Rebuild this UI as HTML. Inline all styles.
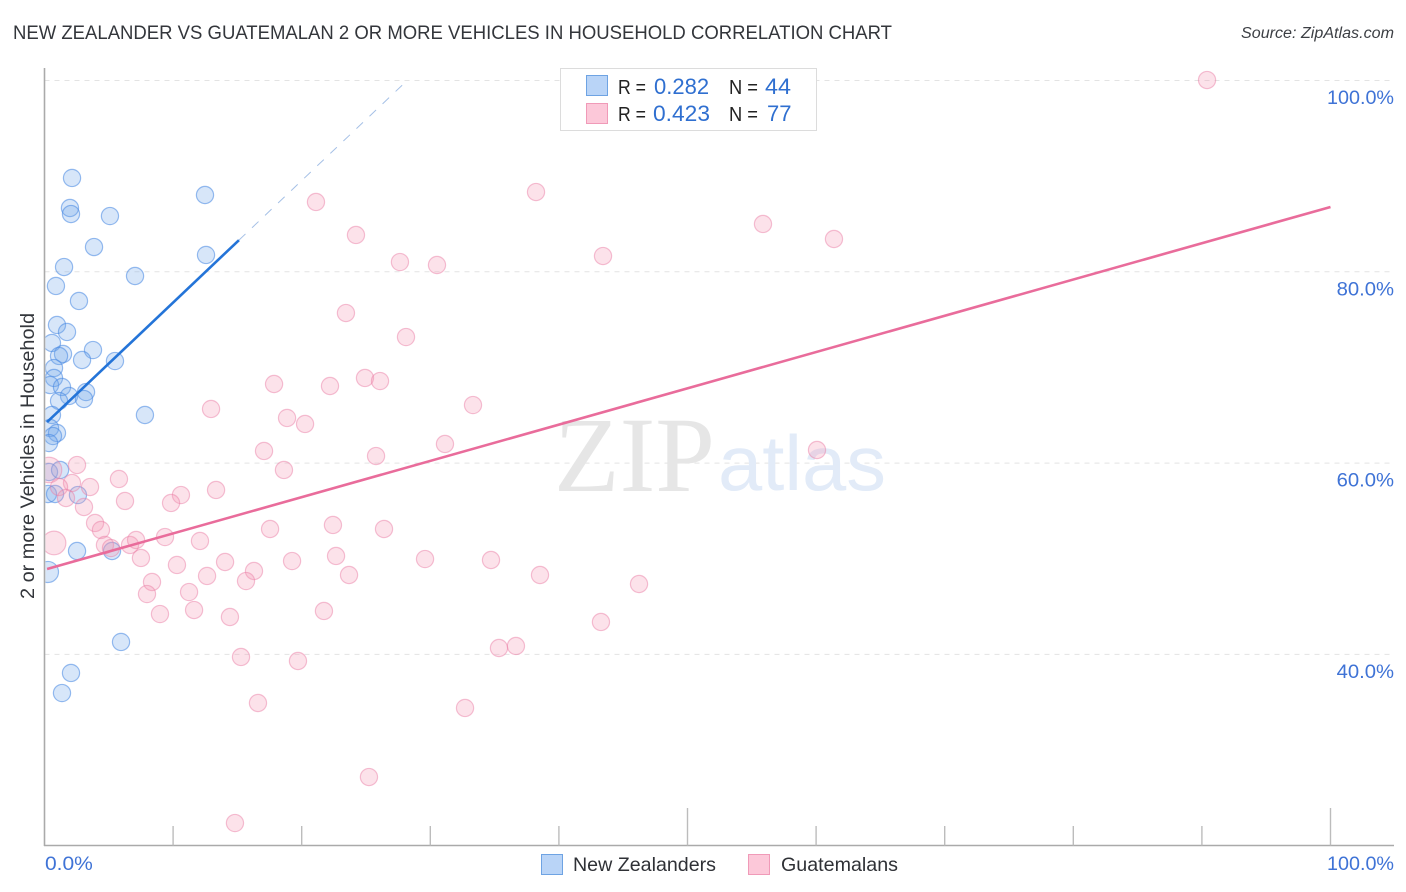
<!DOCTYPE html>
<html lang="en">
<head>
<meta charset="utf-8">
<title>New Zealander vs Guatemalan 2 or more vehicles in household correlation chart</title>
<style>
html,body{margin:0;padding:0;background:#fff;}
body{width:1406px;height:892px;overflow:hidden;}
svg{display:block;font-family:"Liberation Sans",sans-serif;}
</style>
</head>
<body>
<svg id="chart" xmlns="http://www.w3.org/2000/svg" width="1406" height="892" viewBox="0 0 1406 892">
  <defs>
    <clipPath id="plot-clip"><rect x="45.5" y="60" width="1350" height="785"/></clipPath>
  </defs>
  <rect width="1406" height="892" fill="#fff"/>
  <text x="13" y="39" font-size="19" fill="#33363b" textLength="879" lengthAdjust="spacingAndGlyphs">NEW ZEALANDER VS GUATEMALAN 2 OR MORE VEHICLES IN HOUSEHOLD CORRELATION CHART</text>
  <text x="1394" y="38" font-size="15.5" font-style="italic" fill="#3c3f44" text-anchor="end" textLength="153" lengthAdjust="spacingAndGlyphs">Source: ZipAtlas.com</text>

  <g id="grid"></g>

  <g>
    <text x="554" y="491" font-family="'Liberation Serif',serif" font-size="107" fill="#e6e6e6" textLength="161" lengthAdjust="spacingAndGlyphs">ZIP</text>
    <text x="718" y="490" font-size="78" fill="#e2ebf8" textLength="168" lengthAdjust="spacingAndGlyphs">atlas</text>
  </g>

  <g id="points" clip-path="url(#plot-clip)"></g>
  <g id="trends"></g>
  <g id="axes"></g>
  <g id="y-labels"></g>
  <g id="x-labels"></g>

  <text transform="translate(34,456) rotate(-90)" font-size="19.5" fill="#33363b" text-anchor="middle" textLength="286" lengthAdjust="spacingAndGlyphs">2 or more Vehicles in Household</text>

  <g>
    <rect x="560.5" y="68.5" width="256" height="62" fill="#fff" stroke="#dcdcdc"/>
    <rect x="586.5" y="75.5" width="21" height="20" fill="#b9d4f7" stroke="#6ea3e3"/>
    <rect x="586.5" y="103.5" width="21" height="20" fill="#fcc8d9" stroke="#f09ab8"/>
    <text x="618" y="94" font-size="20" fill="#222" textLength="28" lengthAdjust="spacingAndGlyphs">R =</text>
    <text x="654" y="94" font-size="22" fill="#2f6fd0">0.282</text>
    <text x="729" y="94" font-size="20" fill="#222" textLength="29" lengthAdjust="spacingAndGlyphs">N =</text>
    <text x="765" y="94" font-size="22" fill="#2f6fd0" textLength="26" lengthAdjust="spacingAndGlyphs">44</text>
    <text x="618" y="121" font-size="20" fill="#222" textLength="28" lengthAdjust="spacingAndGlyphs">R =</text>
    <text x="653" y="121" font-size="22" fill="#2f6fd0" textLength="57" lengthAdjust="spacingAndGlyphs">0.423</text>
    <text x="729" y="121" font-size="20" fill="#222" textLength="29" lengthAdjust="spacingAndGlyphs">N =</text>
    <text x="767" y="121" font-size="22" fill="#2f6fd0">77</text>
  </g>

  <g>
    <rect x="541.5" y="854.5" width="21" height="20" fill="#b9d4f7" stroke="#6ea3e3"/>
    <text x="573" y="871" font-size="19.5" fill="#2f3136" textLength="143" lengthAdjust="spacingAndGlyphs">New Zealanders</text>
    <rect x="748.5" y="854.5" width="21" height="20" fill="#fcc8d9" stroke="#f09ab8"/>
    <text x="781" y="871" font-size="19.5" fill="#2f3136" textLength="117" lengthAdjust="spacingAndGlyphs">Guatemalans</text>
  </g>
</svg>

<script>
const yTicks = [100, 80, 60, 40];
const yTickLabels = ["100.0%", "80.0%", "60.0%", "40.0%"];
const xTicks = [10, 20, 30, 40, 50, 60, 70, 80, 90, 100];
const xMajorTicks = [50, 100];
const xEdgeValues = [0, 100];
const xEdgeLabels = ["0.0%", "100.0%"];

const blueX = [2.14,1.98,2.06,5.09,12.48,3.85,12.56,1.52,7.04,0.89,2.68,0.97,1.75,0.58,3.77,1.44,1.13,2.92,5.48,0.74,0.74,0.43,1.36,1.91,3.23,3.07,1.13,0.58,7.81,0.43,0.97,0.66,0.35,0.35,1.21,0.27,0.82,2.60,2.53,5.25,0.27,5.95,2.06,1.36];
const blueY = [89.81,86.67,86.04,85.83,88.03,82.59,81.76,80.50,79.56,78.52,76.95,74.44,73.71,72.56,71.82,71.41,71.20,70.78,70.67,69.94,68.90,68.16,67.96,67.02,67.43,66.70,66.49,65.03,65.03,63.67,63.15,62.83,62.10,59.07,59.28,56.77,56.77,56.66,50.81,50.81,48.62,41.30,38.06,35.96];
const blueWeight = [1,1,1,1,1,1,1,1,1,1,1,1,1,1,1,1,1,1,1,1,1,1,1,1,1,1,1,1,1,1,1,1,1,1,1,1,1,1,1,1,1.5,1,1,1];

const pinkX = [90.40,38.22,21.11,55.87,61.39,24.22,43.43,27.64,30.52,23.44,28.11,17.85,24.92,26.09,22.20,33.32,12.95,18.86,20.26,31.14,17.07,25.78,60.07,18.62,2.53,0.35,5.79,13.34,10.61,9.84,6.26,3.54,2.14,1.13,1.67,3.07,3.93,4.39,4.70,5.17,6.65,7.12,9.37,12.09,7.50,10.30,12.64,14.04,16.29,15.67,19.25,17.54,8.36,7.97,11.24,11.63,8.98,14.42,22.43,22.67,26.40,23.68,29.59,34.72,38.53,46.23,21.73,43.27,36.66,35.34,15.28,19.71,16.60,32.70,25.23,14.81,0.74];
const pinkY = [100.05,88.34,87.30,85.00,83.43,83.85,81.65,81.02,80.71,75.69,73.18,68.27,68.90,68.58,68.06,66.07,65.66,64.72,64.09,62.00,61.27,60.74,61.37,59.28,59.80,59.28,58.34,57.19,56.66,55.83,56.04,57.50,57.92,57.50,56.35,55.41,53.74,53.01,51.44,51.12,51.44,51.96,52.27,51.86,50.08,49.35,48.20,49.66,48.72,47.67,49.76,53.11,47.57,46.31,46.52,44.64,44.22,43.91,53.53,50.29,53.11,48.30,49.97,49.87,48.30,47.36,44.54,43.39,40.88,40.67,39.73,39.31,34.92,34.40,27.18,22.37,51.65];
const pinkWeight = [1,1,1,1,1,1,1,1,1,1,1,1,1,1,1,1,1,1,1,1,1,1,1,1,1,2.2,1,1,1,1,1,1,1,1,1,1,1,1,1,1,1,1,1,1,1,1,1,1,1,1,1,1,1,1,1,1,1,1,1,1,1,1,1,1,1,1,1,1,1,1,1,1,1,1,1,1,1.9];

const blueTrendX = [0.2, 15.12];
const blueTrendY = [64.29, 83.31];
const blueProjectionX = [15.12, 28.2];
const blueProjectionY = [83.31, 100];
const pinkTrendX = [0.2, 100];
const pinkTrendY = [48.93, 86.78];

const SVG_NS = "http://www.w3.org/2000/svg";
const plotLeft = 44.5, plotRight = 1330.5, plotTop = 80.5, plotBottom = 845.5, rightEdge = 1394;
function xScale(v) { return plotLeft + (v / 100) * (plotRight - plotLeft); }
function yScale(v) { return plotTop + (100 - v) * 9.565; }
function labelWidth(text) { return 9.6 * text.length + 9.4; }
function make(tag, attrs, parent) {
  const el = document.createElementNS(SVG_NS, tag);
  for (const key in attrs) el.setAttribute(key, attrs[key]);
  parent.appendChild(el);
  return el;
}

const gridLayer = document.getElementById("grid");
const pointLayer = document.getElementById("points");
const trendLayer = document.getElementById("trends");
const axisLayer = document.getElementById("axes");
const yLabelLayer = document.getElementById("y-labels");
const xLabelLayer = document.getElementById("x-labels");

yTicks.forEach(function (tick, i) {
  const line = make("line", { x1: plotLeft, x2: rightEdge, y1: yScale(tick), y2: yScale(tick), stroke: "#e3e3e3", "stroke-width": 1, "stroke-dasharray": "5 5" }, gridLayer);
  
  
  const label = make("text", { x: rightEdge, y: yScale(tick) + 23.5, "font-size": 19.7, fill: "#3f73d6", "text-anchor": "end", textLength: labelWidth(yTickLabels[i]), lengthAdjust: "spacingAndGlyphs" }, yLabelLayer);
  label.textContent = yTickLabels[i];
  
  
});

function drawPoints(xs, ys, weights, fill, stroke, name) {
  xs.forEach(function (x, i) {
    const circle = make("circle", { cx: xScale(x), cy: yScale(ys[i]), r: 8.6 * Math.sqrt(weights[i]), fill: fill, stroke: stroke, "stroke-width": 1.2 }, pointLayer);
    
    
  });
}
drawPoints(blueX, blueY, blueWeight, "rgba(110,165,235,0.28)", "rgba(70,135,225,0.55)", "new-zealander-point");
drawPoints(pinkX, pinkY, pinkWeight, "rgba(245,150,180,0.28)", "rgba(235,125,165,0.48)", "guatemalan-point");

const blueProjection = make("line", { x1: xScale(blueProjectionX[0]), y1: yScale(blueProjectionY[0]), x2: xScale(blueProjectionX[1]), y2: yScale(blueProjectionY[1]), stroke: "#a5c0e6", "stroke-width": 1, "stroke-dasharray": "9 9" }, trendLayer);


const blueTrend = make("line", { x1: xScale(blueTrendX[0]), y1: yScale(blueTrendY[0]), x2: xScale(blueTrendX[1]), y2: yScale(blueTrendY[1]), stroke: "#2474d8", "stroke-width": 2.6 }, trendLayer);


const pinkTrend = make("line", { x1: xScale(pinkTrendX[0]), y1: yScale(pinkTrendY[0]), x2: xScale(pinkTrendX[1]), y2: yScale(pinkTrendY[1]), stroke: "#e96c9b", "stroke-width": 2.6 }, trendLayer);



const yAxis = make("line", { x1: plotLeft, x2: plotLeft, y1: 68, y2: 846, stroke: "#aaaaaa", "stroke-width": 1.6 }, axisLayer);


const xAxis = make("line", { x1: 44, x2: rightEdge, y1: plotBottom, y2: plotBottom, stroke: "#aaaaaa", "stroke-width": 1.6 }, axisLayer);



xTicks.forEach(function (tick) {
  const top = xMajorTicks.indexOf(tick) >= 0 ? 808 : 826;
  const mark = make("line", { x1: xScale(tick), x2: xScale(tick), y1: top, y2: plotBottom, stroke: "#bcbcbc", "stroke-width": 1.4 }, axisLayer);
  
  
});

xEdgeValues.forEach(function (value, i) {
  const atStart = i === 0;
  const label = make("text", { x: atStart ? xScale(value) + 0.5 : rightEdge, y: 870, "font-size": 19.7, fill: "#3f73d6", "text-anchor": atStart ? "start" : "end", textLength: labelWidth(xEdgeLabels[i]), lengthAdjust: "spacingAndGlyphs" }, xLabelLayer);
  label.textContent = xEdgeLabels[i];
  
  
});
</script>
</body>
</html>
